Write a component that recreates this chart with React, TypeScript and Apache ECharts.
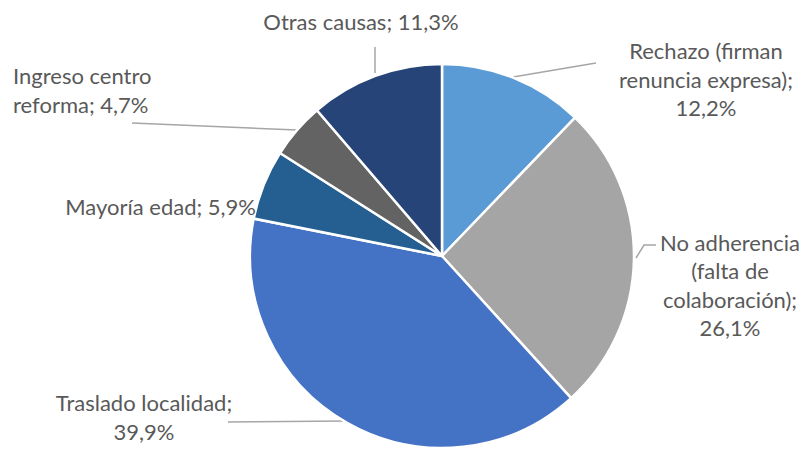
import React, { useEffect, useRef } from "react";
import * as echarts from "echarts";

const categories = [
  "Rechazo (firman\nrenuncia expresa)",
  "No adherencia\n(falta de\ncolaboración)",
  "Traslado localidad",
  "Mayoría edad",
  "Ingreso centro\nreforma",
  "Otras causas",
];
const values = [12.2, 26.1, 39.9, 5.9, 4.7, 11.3];
const separators = [";\n", ";\n", ";\n", "; ", "; ", "; "];
const colors = ["#5B9BD5", "#A5A5A5", "#4472C4", "#255E91", "#636363", "#264478"];

const labelPlacement = [
  { x: 706, y: 79, align: "center", line: [[513, 77], [596, 63]] },
  { x: 730, y: 285, align: "center", line: [[636, 258], [644, 245], [656, 245]] },
  { x: 144, y: 417, align: "center", line: [[347, 421], [228, 422]] },
  { x: 256, y: 206, align: "right", line: null },
  { x: 13, y: 90, align: "left", line: [[297, 130], [132, 123]] },
  { x: 361, y: 21, align: "center", line: [[375, 73], [375, 47]] },
];

export default function App() {
  const ref = useRef<HTMLDivElement>(null);
  useEffect(() => {
    const chart = echarts.init(ref.current!, null, { renderer: "svg" });
    chart.setOption({
      animation: false,
      backgroundColor: "#ffffff",
      series: [
        {
          type: "pie",
          center: [442, 256],
          radius: 192,
          startAngle: 90,
          clockwise: true,
          avoidLabelOverlap: false,
          itemStyle: { borderColor: "#ffffff", borderWidth: 2.5 },
          label: {
            show: true,
            position: "outside",
            color: "#595959",
            fontFamily: "Lato",
            fontSize: 22,
            lineHeight: 28.5,
            formatter: (p: any) =>
              `${p.name}${separators[p.dataIndex]}${p.value.toFixed(1).replace(".", ",")}%`,
          },
          labelLine: {
            show: true,
            lineStyle: { color: "#A6A6A6", width: 1.5 },
          },
          labelLayout: (p: any) => {
            const l = labelPlacement[p.dataIndex];
            const r: any = { x: l.x, y: l.y, align: l.align, verticalAlign: "middle" };
            if (l.line) r.labelLinePoints = l.line;
            return r;
          },
          data: categories.map((c, i) => ({
            name: c,
            value: values[i],
            itemStyle: { color: colors[i] },
            labelLine: { show: labelPlacement[i].line !== null },
          })),
        },
      ],
    });
    return () => chart.dispose();
  }, []);
  return (
    <div
      ref={ref}
      style={{ position: "absolute", left: 0, top: 0, width: 807, height: 450 }}
    />
  );
}
